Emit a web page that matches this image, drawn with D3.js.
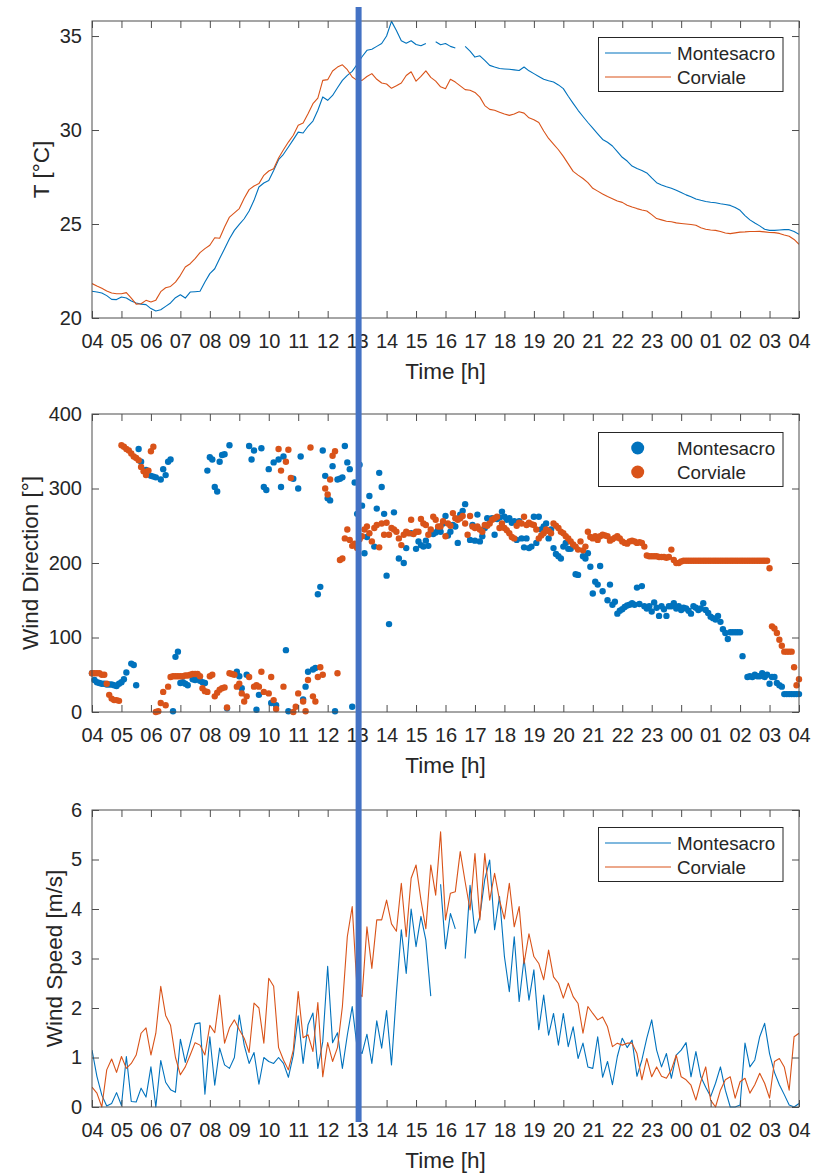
<!DOCTYPE html>
<html>
<head>
<meta charset="utf-8">
<script src="https://cdn.jsdelivr.net/npm/d3@7"></script>
<style>
  body { margin: 0; background: #fff; }
  svg { display: block; }
</style>
</head>
<body>
<svg id="chart" width="826" height="1175"></svg>
<script>
// ---- data -------------------------------------------------------------
// x axis: hours elapsed since 04:00, one tick per hour
const hourLabels = ["04","05","06","07","08","09","10","11","12","13","14","15",
                    "16","17","18","19","20","21","22","23","00","01","02","03","04"];
const stations = ["Montesacro", "Corviale"];

// air temperature [°C], 10-minute samples from 04:00 to 04:00
const tempMontesacro = [
  21.42,21.38,21.33,21.19,20.99,20.98, 21.12,21.06,20.90,20.80,20.74,20.71,
  20.50,20.37,20.44,20.62,20.80,21.08, 21.24,21.06,21.38,21.40,21.42,21.91,
  22.36,22.62,23.16,23.69,24.22,24.66, 24.98,25.28,25.69,26.26,26.97,27.18,
  27.32,27.85,28.42,28.71,29.10,29.49, 29.89,29.84,30.20,30.48,31.05,31.76,
  31.58,31.84,32.25,32.64,32.91,33.12, 33.50,33.90,34.24,34.30,34.45,34.60,
  35.00,35.78,35.30,34.75,34.62,34.75, 34.55,34.48,34.60,null,34.70,34.54,
  34.60,34.45,34.36,null,34.45,34.20, 33.88,33.95,33.70,33.44,33.35,33.27,
  33.25,33.23,33.20,33.17,33.35,33.15, 33.00,32.85,32.70,32.62,32.55,32.40,
  32.20,31.80,31.42,31.05,30.72,30.40, 30.10,29.80,29.50,29.35,29.15,28.85,
  28.55,28.35,28.08,27.95,27.85,27.72, 27.45,27.20,27.08,26.98,26.90,26.80,
  26.68,26.55,26.45,26.33,26.26,26.20, 26.16,26.13,26.08,26.04,25.99,25.88,
  25.73,25.45,25.22,25.05,24.90,24.72, 24.66,24.66,24.68,24.70,24.70,24.60,
  24.45];
const tempCorviale = [
  21.83,21.70,21.58,21.44,21.33,21.29, 21.29,21.35,21.06,20.74,20.76,20.94,
  20.85,20.95,21.40,21.61,21.68,21.91, 22.27,22.71,22.89,23.16,23.48,23.69,
  23.87,24.27,24.24,24.84,25.37,25.59, 25.82,26.37,26.83,27.02,27.15,27.59,
  27.82,27.94,28.51,28.95,29.36,29.72, 30.25,30.37,30.87,31.40,31.70,32.64,
  32.68,33.14,33.35,33.47,33.21,32.82, 32.64,32.64,32.85,33.00,32.70,32.50,
  32.45,32.22,32.35,32.50,32.90,33.10, 32.60,32.85,33.15,32.80,32.60,32.30,
  32.20,32.70,32.55,32.35,32.15,32.12, 32.00,31.75,31.30,31.10,31.05,30.95,
  30.85,30.78,30.85,30.97,30.90,30.65, 30.55,30.40,29.95,29.55,29.25,28.95,
  28.60,28.20,27.80,27.60,27.42,27.20, 26.90,26.75,26.60,26.46,26.35,26.22,
  26.15,26.00,25.90,25.82,25.75,25.69, 25.50,25.29,25.22,25.15,25.12,25.06,
  25.03,25.00,24.97,24.93,24.80,24.72, 24.68,24.66,24.60,24.52,24.49,24.53,
  24.57,24.58,24.60,24.60,24.61,24.58, 24.55,24.54,24.50,24.42,24.35,24.18,
  23.92];

// wind direction [°], 5-minute samples (null = no reading)
const dirMontesacro = [
  52,43,40,39,38,38,37,37,37,36,35,38,
  40,44,53,null,65,63,36,353,336,null,325,null,
  317,316,315,null,312,326,318,336,339,1,74,81,
  39,40,38,36,null,44,43,null,42,40,39,324,
  342,339,302,296,336,345,346,5,358,null,null,54,
  48,32,null,50,357,339,351,3,23,354,302,298,
  326,12,335,9,339,302,343,83,1,null,313,null,
  300,343,17,34,54,null,57,59,158,168,351,317,
  287,284,330,1,312,313,315,357,335,326,7,308,
  266,332,277,213,235,290,null,222,273,321,302,266,
  183,118,null,268,null,206,null,200,220,null,240,null,
  219,229,224,222,230,223,241,239,241,245,242,253,
  263,237,242,251,249,227,265,270,279,null,231,251,
  230,265,229,236,247,260,259,260,238,259,261,269,
  262,258,260,254,256,231,256,233,221,233,220,222,
  262,227,262,245,249,253,233,245,220,212,209,206,
  222,227,219,219,null,185,184,null,209,206,213,195,
  159,175,171,196,162,null,150,171,144,148,132,136,
  138,141,143,144,146,144,167,145,169,142,139,142,
  135,147,140,129,142,138,129,142,142,146,139,142,
  137,140,139,136,132,142,140,137,139,146,137,133,
  128,126,124,129,121,111,106,98,107,107,107,107,
  107,75,null,47,48,47,50,48,48,52,47,50,
  38,47,47,39,36,34,24,24,24,24,24,24,
  24];
const dirCorviale = [
  52,52,52,52,50,50,38,23,18,16,16,15,
  358,356,353,351,347,343,341,338,329,323,318,324,
  350,356,0,1,12,27,9,34,47,48,48,48,
  48,48,49,49,50,51,51,51,48,32,28,27,
  48,50,21,26,30,32,33,6,52,51,50,34,
  38,25,14,21,47,null,34,36,34,54,27,null,
  25,47,16,4,353,324,34,336,352,314,0,7,
  25,null,14,1,43,355,21,14,47,60,50,300,
  292,312,344,350,52,204,206,233,245,231,223,226,
  220,232,236,245,249,240,229,247,251,221,253,238,
  254,238,247,245,242,233,224,238,242,240,258,239,
  242,242,259,253,251,238,245,262,258,249,249,256,
  236,253,250,267,260,258,260,263,253,238,263,249,
  247,249,245,242,251,250,253,258,260,262,247,253,
  247,244,240,235,233,250,254,253,262,251,254,252,
  251,245,233,237,240,245,243,240,253,250,247,242,
  240,236,233,229,225,222,218,229,217,222,242,235,
  233,236,231,236,238,237,236,230,232,234,236,233,
  229,227,226,229,230,229,227,228,227,222,210,209,
  209,209,209,208,208,208,207,208,218,204,200,200,
  202,203,203,203,203,203,203,203,203,203,203,203,
  203,203,203,203,203,203,203,203,203,203,203,203,
  203,203,203,203,203,203,203,203,203,203,203,203,
  193,115,112,106,97,89,81,81,81,81,60,36,
  44];

// wind speed [m/s], 10-minute samples
const speedMontesacro = [
  1.15,0.62,0.24,0.02,0.07,0.29, 0.03,1.02,0.11,0.10,0.38,0.20,
  0.81,0.00,0.94,0.50,0.35,0.30, 1.37,0.90,1.29,1.68,1.70,0.26,
  1.42,0.44,1.19,0.85,0.78,1.00, 1.86,1.25,0.88,1.10,0.46,1.00,
  0.92,0.88,1.00,0.88,0.60,1.05, 1.84,0.88,1.66,1.90,0.78,1.32,
  2.84,1.30,1.50,0.78,1.45,2.03, 1.20,1.08,1.47,0.88,1.74,1.19,
  1.95,0.85,2.30,3.58,2.70,4.00, 3.24,3.85,3.37,2.24,null,4.50,
  3.20,3.91,3.60,null,3.00,4.48, 3.51,3.85,4.60,4.99,3.58,4.25,
  3.04,2.33,3.44,2.13,3.00,2.16, 2.77,1.56,2.26,1.45,1.89,1.25,
  1.89,1.22,1.62,0.98,1.29,0.81, 0.78,1.42,0.60,0.92,0.45,1.02,
  1.39,1.20,1.35,0.62,0.95,1.39, 1.76,1.15,0.81,1.08,0.58,1.05,
  1.15,1.30,0.61,1.12,0.61,0.40, 0.21,0.48,0.81,0.34,0.00,0.00,
  0.04,1.29,0.81,0.95,1.42,1.69, 1.08,0.70,0.45,0.25,0.04,0.00,
  0.07];
const speedCorviale = [
  0.40,0.28,0.00,0.75,0.97,0.70, 1.02,0.78,0.88,1.05,1.49,1.60,
  1.05,1.49,2.44,1.85,1.65,1.00, 0.65,0.81,1.05,1.30,1.25,1.05,
  1.65,1.50,2.26,1.29,1.60,1.76, 1.56,1.39,1.10,2.10,2.00,1.29,
  2.60,2.44,1.20,0.95,0.75,1.15, 2.33,1.40,1.46,1.12,2.11,0.61,
  1.30,0.92,1.20,2.03,3.44,4.05, 2.36,2.23,3.64,2.80,3.78,3.78,
  4.18,3.70,3.55,4.52,3.44,4.62, 4.89,4.18,3.60,4.89,4.28,5.56,
  3.78,4.32,4.35,5.16,4.55,3.98, 5.12,3.78,5.12,4.18,4.72,4.18,
  3.80,4.52,3.64,4.05,2.90,3.50, 3.04,2.90,2.57,3.17,2.63,2.50,
  2.20,2.50,2.23,2.09,1.49,2.03, 1.89,1.76,1.82,1.62,1.22,1.29,
  1.25,1.29,1.29,1.08,0.55,0.98, 0.61,0.81,0.62,0.58,0.75,1.05,
  0.61,0.55,0.44,0.14,0.51,0.81, 0.14,0.00,0.34,0.55,0.61,0.18,
  0.51,0.58,0.28,0.45,0.68,0.48, 0.18,0.92,0.98,0.81,0.34,1.42,
  1.49];

// hour (since 04:00) of the vertical marker line
const markerHour = 9.05;

// ---- layout ------------------------------------------------------------
const FONT = "'Liberation Sans', Arial, Helvetica, sans-serif";
const colors = ["#0072BD", "#D95319"];
const axisColor = "#4d4d4d";
const textColor = "#262626";
const tickFont = 20, legendFont = 18.8, labelFont = 22.5;

const svg = d3.select("#chart");
const x = d3.scaleLinear().domain([0, 24]).range([92, 799]);

const panels = [
  { top: 21,  bottom: 318,  domain: [20, 35.8], ticks: [20, 25, 30, 35],
    label: "T [°C]", labelX: 48.5, legendTop: 37, kind: "line",
    series: [tempMontesacro, tempCorviale], stepMin: 10 },
  { top: 414, bottom: 712,  domain: [0, 400], ticks: [0, 100, 200, 300, 400],
    label: "Wind Direction [°]", labelX: 37.5, legendTop: 432, kind: "dot",
    series: [dirMontesacro, dirCorviale], stepMin: 5 },
  { top: 810, bottom: 1107, domain: [0, 6], ticks: [0, 1, 2, 3, 4, 5, 6],
    label: "Wind Speed [m/s]", labelX: 61.5, legendTop: 827, kind: "line",
    series: [speedMontesacro, speedCorviale], stepMin: 10 }
];

function styleAxis(g) {
  g.select(".domain").remove();
  g.attr("font-family", FONT).attr("font-size", tickFont).attr("color", axisColor);
  g.selectAll("line").attr("stroke-width", 1);
  g.selectAll("text").attr("fill", textColor);
}

panels.forEach((p, pi) => {
  const y = d3.scaleLinear().domain(p.domain).range([p.bottom, p.top]);
  const g = svg.append("g");
  const clipId = "clip" + pi;
  svg.append("clipPath").attr("id", clipId)
    .append("rect").attr("x", x(0)).attr("y", p.top - 1)
    .attr("width", x(24) - x(0)).attr("height", p.bottom - p.top + 2);

  // series
  const toPoints = arr => arr.map((v, i) => ({ h: i * p.stepMin / 60, v }));
  if (p.kind === "line") {
    const line = d3.line().defined(d => d.v != null)
      .x(d => x(d.h)).y(d => y(d.v));
    p.series.forEach((arr, k) => {
      g.append("path").datum(toPoints(arr))
        .attr("clip-path", `url(#${clipId})`)
        .attr("fill", "none").attr("stroke", colors[k])
        .attr("stroke-width", 1.1).attr("stroke-linejoin", "round")
        .attr("d", line);
    });
  } else {
    p.series.forEach((arr, k) => {
      g.append("g").selectAll("circle")
        .data(toPoints(arr).filter(d => d.v != null))
        .join("circle")
        .attr("cx", d => x(d.h)).attr("cy", d => y(d.v))
        .attr("r", 3.2).attr("fill", colors[k]);
    });
  }

  // axes: ticks point inward on all four sides
  const hours = d3.range(25);
  g.append("g").attr("transform", `translate(0,${p.bottom})`)
    .call(d3.axisBottom(x).tickValues(hours).tickFormat(d => hourLabels[d])
      .tickSizeInner(-7).tickSizeOuter(0).tickPadding(15.5))
    .call(styleAxis);
  g.append("g").attr("transform", `translate(0,${p.top})`)
    .call(d3.axisTop(x).tickValues(hours).tickFormat("")
      .tickSizeInner(-7).tickSizeOuter(0))
    .call(styleAxis);
  g.append("g").attr("transform", `translate(${x(0)},0)`)
    .call(d3.axisLeft(y).tickValues(p.ticks).tickFormat(d3.format("d"))
      .tickSizeInner(-7).tickSizeOuter(0).tickPadding(10))
    .call(styleAxis);
  g.append("g").attr("transform", `translate(${x(24)},0)`)
    .call(d3.axisRight(y).tickValues(p.ticks).tickFormat("")
      .tickSizeInner(-7).tickSizeOuter(0))
    .call(styleAxis);

  g.append("rect")
    .attr("x", x(0)).attr("y", p.top)
    .attr("width", x(24) - x(0)).attr("height", p.bottom - p.top)
    .attr("fill", "none").attr("stroke", axisColor).attr("stroke-width", 1);

  // axis titles
  g.append("text")
    .attr("x", (x(0) + x(24)) / 2).attr("y", p.bottom + 60.5)
    .attr("text-anchor", "middle")
    .attr("font-family", FONT).attr("font-size", labelFont).attr("fill", textColor)
    .text("Time [h]");
  g.append("text")
    .attr("transform", `translate(${p.labelX},${(p.top + p.bottom) / 2}) rotate(-90)`)
    .attr("text-anchor", "middle")
    .attr("font-family", FONT).attr("font-size", labelFont).attr("fill", textColor)
    .text(p.label);

  // legend
  const lg = g.append("g").attr("transform", `translate(598.5,${p.legendTop + 0.5})`);
  lg.append("rect").attr("width", 184.5).attr("height", 54)
    .attr("fill", "#fff").attr("stroke", textColor).attr("stroke-width", 1);
  stations.forEach((name, k) => {
    const cy = 15.5 + k * 24;
    if (p.kind === "line") {
      lg.append("line").attr("x1", 6.5).attr("x2", 72.5).attr("y1", cy).attr("y2", cy)
        .attr("stroke", colors[k]).attr("stroke-width", 1.1);
    } else {
      lg.append("circle").attr("cx", 39.2).attr("cy", cy).attr("r", 6.5)
        .attr("fill", colors[k]);
    }
    lg.append("text").attr("x", 78.5).attr("y", cy).attr("dy", "0.35em")
      .attr("font-family", FONT).attr("font-size", legendFont).attr("fill", textColor)
      .text(name);
  });
});

// vertical marker across all three panels
svg.append("line")
  .attr("x1", x(markerHour)).attr("x2", x(markerHour))
  .attr("y1", 7).attr("y2", 1122)
  .attr("stroke", "#4472C4").attr("stroke-width", 6);
</script>
</body>
</html>
